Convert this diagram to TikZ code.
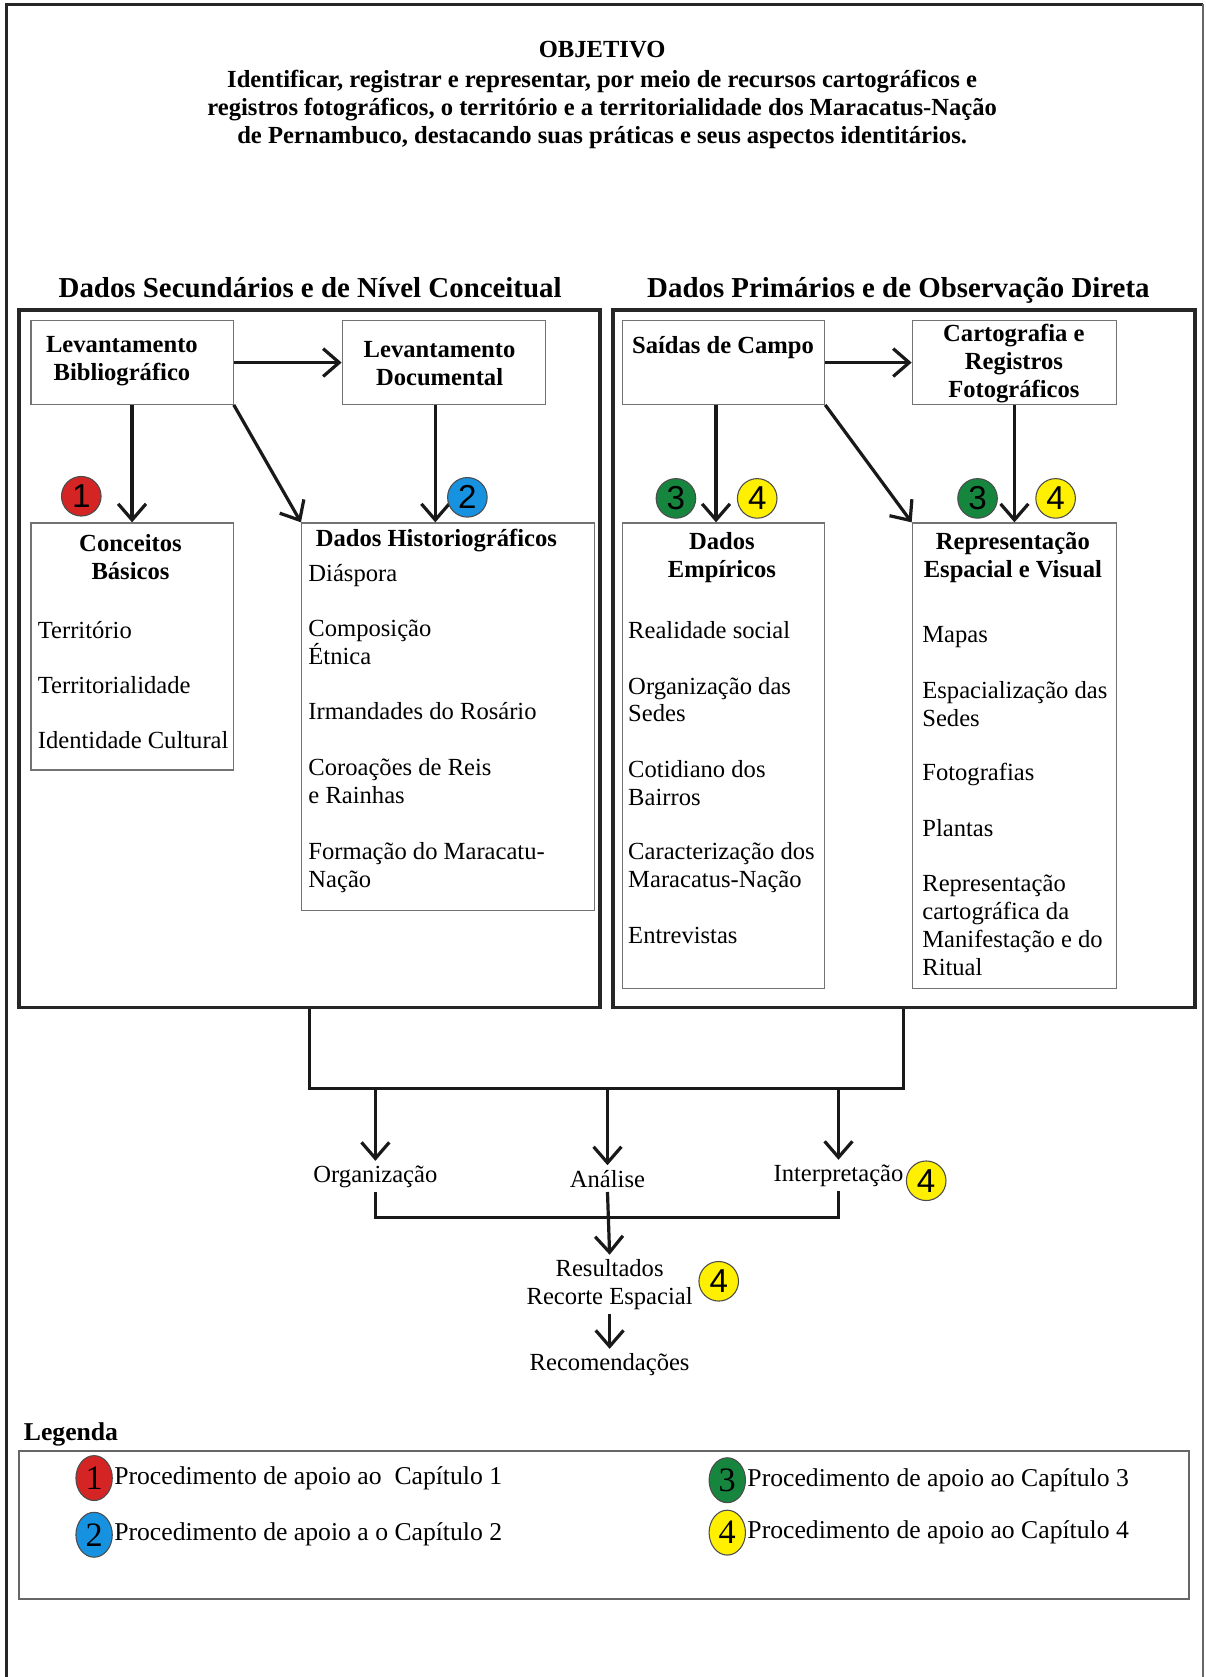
\documentclass[tikz,border=0pt]{standalone}
\usepackage{fontspec}
\setmainfont{Liberation Serif}
\newfontfamily\mfsans{Liberation Sans}
\usetikzlibrary{positioning,arrows.meta,calc,fit,shapes.geometric}
\definecolor{mfred}{RGB}{212,36,36}
\definecolor{mfblue}{RGB}{22,146,224}
\definecolor{mfgreen}{RGB}{22,134,62}
\definecolor{mfyellow}{RGB}{255,240,0}
\tikzset{
  mfbig/.style={draw=black!85, line width=1.8pt, inner sep=0pt},
  mfbox/.style={draw=black!55, line width=0.6pt, inner sep=0pt},
  mfhead/.style={font=\fontsize{11.5}{13}\selectfont\bfseries, align=center, inner sep=0pt},
  mftitle/.style={font=\fontsize{13.5}{16}\selectfont\bfseries, anchor=base, inner sep=0pt},
  mfitem/.style={font=\fontsize{11.5}{13}\selectfont, align=left, anchor=base west, inner sep=0pt},
  mfflow/.style={draw=black!90, line width=1.5pt, -{Straight Barb[length=7.5pt,width=13pt]}},
  mflink/.style={draw=black!90, line width=1.5pt},
  mfchap/.style={circle, draw=black!70, line width=0.5pt, minimum size=18.5pt,
                 inner sep=0pt, font=\mfsans\fontsize{15.5}{15.5}\selectfont},
  mfleg/.style={ellipse, draw=black!70, line width=0.5pt, minimum width=17pt,
                minimum height=21pt, inner sep=0pt, font=\fontsize{16}{16}\selectfont},
  mflabel/.style={font=\fontsize{11.5}{13}\selectfont, align=center, inner sep=2pt},
  mflegtext/.style={font=\fontsize{12}{14}\selectfont, inner sep=0pt},
}

\begin{document}
\begin{tikzpicture}[x=0.5pt, y=-0.5pt]
  \useasboundingbox (0,0) rectangle (1127,1568);
  % outer frame
  \draw[line width=1.6pt, black!85] (6,1568) -- (6,4) -- (1125,4);
  \draw[line width=0.8pt, black!60] (1125,4) -- (1125,1568);

  % objective
  \node[mfhead] (obj) at (563,89) {OBJETIVO\\[1pt]
    Identificar, registrar e representar, por meio de recursos cartográficos e\\
    registros fotográficos, o território e a territorialidade dos Maracatus-Nação\\
    de Pernambuco, destacando suas práticas e seus aspectos identitários.};

  \node[mftitle] (secT) at (290,278) {Dados Secundários e de Nível Conceitual};
  \node[mftitle] (priT) at (840,278) {Dados Primários e de Observação Direta};

  % big frames
  \node[mfbig, fit={(18,290) (561,942)}] (bigl) {};
  \node[mfbig, fit={(573,290) (1117,942)}] (bigr) {};

  % left side boxes
  \node[mfbox, fit={(29,300) (218,378)}] (levbib) {};
  \node[mfbox, fit={(320,300) (510,378)}] (levdoc) {};
  \node[mfbox, fit={(29,489) (218,720)}] (conc) {};
  \node[mfbox, fit={(282,489) (556,851)}] (hist) {};
  \node[mfhead] (levbib-t) at (114,338) {Levantamento\\Bibliográfico};
  \node[mfhead] (levdoc-t) at (411,340) {Levantamento\\Documental};
  \node[mfhead] (conc-t) at (122,521) {Conceitos\\Básicos};
  \node[mfhead] (hist-t) at (408,505) {Dados Historiográficos};

  \node[mfitem] (conc-a) at (35,597) {Território};
  \node[mfitem] (conc-b) at (35,648) {Territorialidade};
  \node[mfitem] (conc-c) at (35,700) {Identidade Cultural};

  % base anchor = last line of the node
  \node[mfitem] (hist-a) at (288,544) {Diáspora};
  \node[mfitem] (hist-b) at (288,621) {Composição\\Étnica};
  \node[mfitem] (hist-c) at (288,673) {Irmandades do Rosário};
  \node[mfitem] (hist-d) at (288,751) {Coroações de Reis\\e Rainhas};
  \node[mfitem] (hist-e) at (288,830) {Formação do Maracatu-\\Nação};

  % right side boxes
  \node[mfbox, fit={(582,300) (771,378)}] (saidas) {};
  \node[mfbox, fit={(853,300) (1044,378)}] (carto) {};
  \node[mfbox, fit={(582,489) (771,924)}] (emp) {};
  \node[mfbox, fit={(853,489) (1044,924)}] (repr) {};
  \node[mfhead] (saidas-t) at (676,325) {Saídas de Campo};
  \node[mfhead] (carto-t) at (948,340) {Cartografia e\\Registros\\Fotográficos};
  \node[mfhead] (emp-t) at (675,521) {Dados\\Empíricos};
  \node[mfhead] (repr-t) at (947,521) {Representação\\Espacial e Visual};

  \node[mfitem] (emp-a) at (587,597) {Realidade social};
  \node[mfitem] (emp-b) at (587,675) {Organização das\\Sedes};
  \node[mfitem] (emp-c) at (587,753) {Cotidiano dos\\Bairros};
  \node[mfitem] (emp-d) at (587,830) {Caracterização dos\\Maracatus-Nação};
  \node[mfitem] (emp-e) at (587,882) {Entrevistas};

  \node[mfitem] (repr-a) at (862,601) {Mapas};
  \node[mfitem] (repr-b) at (862,679) {Espacialização das\\Sedes};
  \node[mfitem] (repr-c) at (862,730) {Fotografias};
  \node[mfitem] (repr-d) at (862,782) {Plantas};
  \node[mfitem] (repr-e) at (862,912) {Representação\\cartográfica da\\Manifestação e do\\Ritual};

  % arrows inside the frames
  \draw[mfflow] (levbib.east) -- (levdoc.west);
  \draw[mfflow] (levbib.south) -- (conc.north);
  \draw[mfflow] (levbib.south east) -- (hist.north west);
  \draw[mfflow] ([xshift=-4pt]levdoc.south) -- ([xshift=-4pt]levdoc.south |- hist.north);
  \draw[mfflow] (saidas.east) -- (carto.west);
  \draw[mfflow] ([xshift=-3.5pt]saidas.south) -- ([xshift=-3.5pt]saidas.south |- emp.north);
  \draw[mfflow] (saidas.south east) -- (repr.north west);
  \draw[mfflow] (carto.south) -- (repr.north);

  % chapter marks
  \node[mfchap, fill=mfred] (c1) at (76,464) {1};
  \node[mfchap, fill=mfblue] (c2) at (437,465) {2};
  \node[mfchap, fill=mfgreen] (c3a) at (632,466) {3};
  \node[mfchap, fill=mfyellow] (c4a) at (708,466) {4};
  \node[mfchap, fill=mfgreen] (c3b) at (914,466) {3};
  \node[mfchap, fill=mfyellow] (c4b) at (987,466) {4};

  % synthesis
  \coordinate (join) at (568,1018);
  \coordinate (merge) at (568,1138);
  \draw[mflink] (bigl.south) |- (join) -| (bigr.south);
  \node[mflabel] (org) at (351,1100) {Organização};
  \node[mflabel] (ana) at (568,1102) {Análise};
  \node[mflabel] (interp) at (784,1099) {Interpretação};
  \node[mfchap, fill=mfyellow] (c4d) at (866,1104) {4};
  \draw[mfflow] (org |- join) -- (org.north);
  \draw[mfflow] (ana |- join) -- (ana.north);
  \draw[mfflow] (interp |- join) -- (interp.north);

  \node[mflabel] (res) at (570,1201) {Resultados\\Recorte Espacial};
  \node[mfchap, fill=mfyellow] (c4c) at (672,1198) {4};
  \node[mflabel] (rec) at (570,1276) {Recomendações};
  \draw[mflink] (org.south) |- (merge) -| (interp.south);
  \draw[mfflow] (ana.south) -- (res.north);
  \draw[mfflow] (res.south) -- (rec.north);

  % legend
  \node[font=\fontsize{12}{14}\selectfont\bfseries, anchor=base west, inner sep=0pt]
    (legT) at (22,1347) {Legenda};
  \node[mfbox, draw=black!60, line width=0.8pt, fit={(18,1357) (1112,1495)}] (legbox) {};
  \node[mfleg, fill=mfred] (l1) at (88,1382) {1};
  \node[mfleg, fill=mfblue] (l2) at (88,1435) {2};
  \node[mfleg, fill=mfgreen] (l3) at (680,1384) {3};
  \node[mfleg, fill=mfyellow] (l4) at (680,1433) {4};
  \node[mflegtext, right=0.5pt of l1] (l1t) {Procedimento de apoio ao\ \ Capítulo 1};
  \node[mflegtext, right=0.5pt of l2] (l2t) {Procedimento de apoio a o Capítulo 2};
  \node[mflegtext, right=0.5pt of l3] (l3t) {Procedimento de apoio ao Capítulo 3};
  \node[mflegtext, right=0.5pt of l4] (l4t) {Procedimento de apoio ao Capítulo 4};
\end{tikzpicture}
\end{document}
